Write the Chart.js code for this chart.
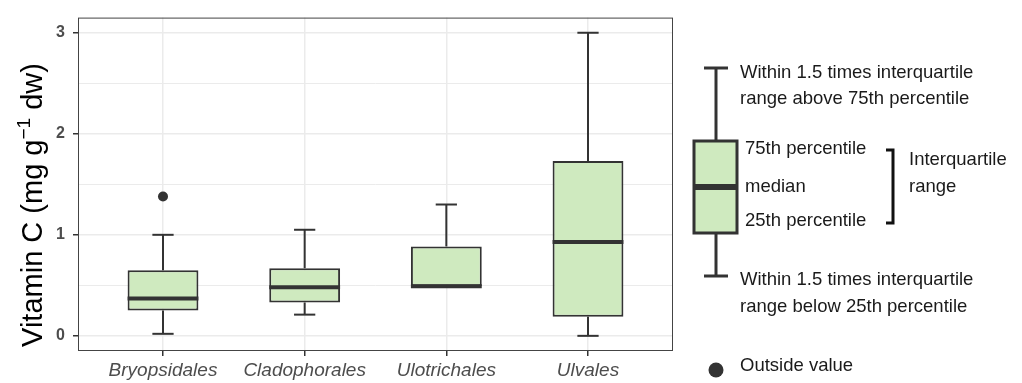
<!DOCTYPE html>
<html>
<head>
<meta charset="utf-8">
<title>Vitamin C by order</title>
<script src="https://cdn.jsdelivr.net/npm/chart.js@4.4.1/dist/chart.umd.min.js"></script>
<style>
  html, body { margin: 0; padding: 0; background: #ffffff; }
  #wrap { width: 1022px; height: 383px; position: relative; }
</style>
</head>
<body>
<div id="wrap"><canvas id="chart"></canvas></div>
<script>
// Box-plot summaries per algal order (mg g-1 dw)
const categories    = ['Bryopsidales', 'Cladophorales', 'Ulotrichales', 'Ulvales'];
const lowerWhisker  = [0.02, 0.21, 0.49, 0.00];
const lowerQuartile = [0.25, 0.33, 0.49, 0.19];
const medians       = [0.37, 0.48, 0.49, 0.93];
const upperQuartile = [0.65, 0.67, 0.885, 1.73];
const upperWhisker  = [1.00, 1.05, 1.30, 3.00];

// Points outside the whiskers
const outlierGroup  = ['Bryopsidales'];
const outlierValue  = [1.38];

// Axis ticks
const yMajorTicks = [0, 1, 2, 3];
const yMinorTicks = [0.5, 1.5, 2.5];

const FONT = "'Liberation Sans', Arial, Helvetica, sans-serif";
const BOX_FILL = '#cfeabf';
const INK = '#333333';
const CAP_WIDTH = 0.15;   // whisker cap width in category units

const boxData = categories.map((c, i) => ({ x: i + 1, y: [lowerQuartile[i], upperQuartile[i]] }));
const outlierData = outlierGroup.map((g, i) => ({ x: categories.indexOf(g) + 1, y: outlierValue[i] }));

function strokeLine(ctx, x1, y1, x2, y2) {
  ctx.beginPath();
  ctx.moveTo(x1, y1);
  ctx.lineTo(x2, y2);
  ctx.stroke();
}

// Whiskers, medians, panel frame, axis title and the explanatory key
const boxParts = {
  id: 'boxParts',
  beforeDatasetsDraw(chart) {
    const { ctx, scales: { x, y } } = chart;
    ctx.save();
    ctx.strokeStyle = INK;
    ctx.lineWidth = 2;
    categories.forEach((c, i) => {
      const px = x.getPixelForValue(i + 1);
      const half = x.getPixelForValue(i + 1 + CAP_WIDTH / 2) - px;
      const yHi = y.getPixelForValue(upperWhisker[i]);
      const yLo = y.getPixelForValue(lowerWhisker[i]);
      strokeLine(ctx, px, y.getPixelForValue(upperQuartile[i]), px, yHi);
      strokeLine(ctx, px, y.getPixelForValue(lowerQuartile[i]), px, yLo);
      strokeLine(ctx, px - half, yHi, px + half, yHi);
      strokeLine(ctx, px - half, yLo, px + half, yLo);
    });
    ctx.restore();
  },
  afterDatasetsDraw(chart) {
    const { ctx, scales: { y } } = chart;
    const bars = chart.getDatasetMeta(0).data;
    ctx.save();
    ctx.strokeStyle = INK;
    ctx.lineWidth = 4;
    bars.forEach((bar, i) => {
      const ym = y.getPixelForValue(medians[i]);
      strokeLine(ctx, bar.x - bar.width / 2, ym, bar.x + bar.width / 2, ym);
    });
    ctx.restore();
  },
  afterDraw(chart) {
    const { ctx, chartArea: a } = chart;
    ctx.save();

    // panel frame
    ctx.strokeStyle = '#444444';
    ctx.lineWidth = 1;
    ctx.strokeRect(a.left + 0.5, a.top + 0.5, a.right - a.left - 1, a.bottom - a.top - 1);

    // y-axis title with superscript
    const big = '29px ' + FONT, small = '19px ' + FONT;
    const parts = [
      { t: 'Vitamin C (mg g', f: big, dy: 0 },
      { t: '\u22121', f: small, dy: -12 },
      { t: ' dw)', f: big, dy: 0 }
    ];
    let total = 0;
    parts.forEach(p => { ctx.font = p.f; p.w = ctx.measureText(p.t).width; total += p.w; });
    ctx.translate(42, 205);
    ctx.rotate(-Math.PI / 2);
    ctx.fillStyle = '#000000';
    ctx.textBaseline = 'alphabetic';
    ctx.textAlign = 'left';
    let cx = -total / 2;
    parts.forEach(p => { ctx.font = p.f; ctx.fillText(p.t, cx, p.dy); cx += p.w; });
    ctx.setTransform(1, 0, 0, 1, 0, 0);

    // explanatory key
    ctx.strokeStyle = INK;
    ctx.lineWidth = 3;
    strokeLine(ctx, 716, 68, 716, 141);
    strokeLine(ctx, 716, 233, 716, 276);
    strokeLine(ctx, 704, 68, 728, 68);
    strokeLine(ctx, 704, 276, 728, 276);
    ctx.fillStyle = BOX_FILL;
    ctx.fillRect(694, 141, 43, 92);
    ctx.strokeRect(694, 141, 43, 92);
    ctx.lineWidth = 6;
    strokeLine(ctx, 694, 187, 737, 187);

    ctx.strokeStyle = '#111111';
    ctx.lineWidth = 3;
    ctx.beginPath();
    ctx.moveTo(886, 150);
    ctx.lineTo(893, 150);
    ctx.lineTo(893, 223);
    ctx.lineTo(886, 223);
    ctx.stroke();

    ctx.fillStyle = INK;
    ctx.beginPath();
    ctx.arc(716, 370, 7.5, 0, Math.PI * 2);
    ctx.fill();

    ctx.fillStyle = '#1a1a1a';
    ctx.font = '18.5px ' + FONT;
    ctx.textAlign = 'left';
    ctx.textBaseline = 'middle';
    const lines = [
      ['Within 1.5 times interquartile', 740, 73],
      ['range above 75th percentile', 740, 99],
      ['75th percentile', 745, 149],
      ['median', 745, 187],
      ['25th percentile', 745, 221],
      ['Interquartile', 909, 160],
      ['range', 909, 187],
      ['Within 1.5 times interquartile', 740, 280],
      ['range below 25th percentile', 740, 307],
      ['Outside value', 740, 366]
    ];
    lines.forEach(([t, x, y]) => ctx.fillText(t, x, y));
    ctx.restore();
  }
};

new Chart(document.getElementById('chart'), {
  type: 'bar',
  data: {
    datasets: [
      {
        type: 'bar',
        data: boxData,
        backgroundColor: BOX_FILL,
        borderColor: INK,
        borderWidth: 2,
        borderSkipped: false,
        categoryPercentage: 1.0,
        barPercentage: 0.5,
        order: 2
      },
      {
        type: 'scatter',
        data: outlierData,
        backgroundColor: INK,
        borderWidth: 0,
        pointRadius: 5,
        order: 1
      }
    ]
  },
  options: {
    responsive: true,
    maintainAspectRatio: false,
    devicePixelRatio: 1,
    animation: false,
    layout: { padding: { top: 8, right: 349, left: 0, bottom: 0 } },
    plugins: { legend: { display: false }, tooltip: { enabled: false } },
    scales: {
      x: {
        type: 'linear',
        offset: false,
        min: 0.4,
        max: 4.6,
        afterBuildTicks: s => { s.ticks = categories.map((c, i) => ({ value: i + 1 })); },
        afterFit: s => { s.height = 32; },
        border: { display: false },
        grid: { offset: false, color: '#ebebeb', lineWidth: 1.5, tickColor: INK, tickLength: 5, tickWidth: 1.5 },
        ticks: {
          padding: 3,
          color: '#4d4d4d',
          font: { family: FONT, size: 19, style: 'italic' },
          callback: v => categories[v - 1] || ''
        }
      },
      y: {
        type: 'linear',
        min: -0.15,
        max: 3.15,
        afterBuildTicks: s => {
          s.ticks = yMajorTicks.concat(yMinorTicks).sort((p, q) => p - q).map(v => ({ value: v }));
        },
        afterFit: s => { s.width = 78; },
        border: { display: false },
        grid: {
          color: '#ebebeb',
          lineWidth: c => yMajorTicks.includes(c.tick.value) ? 1.5 : 1,
          tickColor: c => yMajorTicks.includes(c.tick.value) ? INK : 'rgba(0,0,0,0)',
          tickLength: 5,
          tickWidth: 1.5
        },
        ticks: {
          padding: 8,
          color: '#4d4d4d',
          font: { family: FONT, size: 16, weight: 'bold' },
          callback: v => yMajorTicks.includes(v) ? String(v) : ''
        },
        title: { display: false }
      }
    }
  },
  plugins: [boxParts]
});
</script>
</body>
</html>
